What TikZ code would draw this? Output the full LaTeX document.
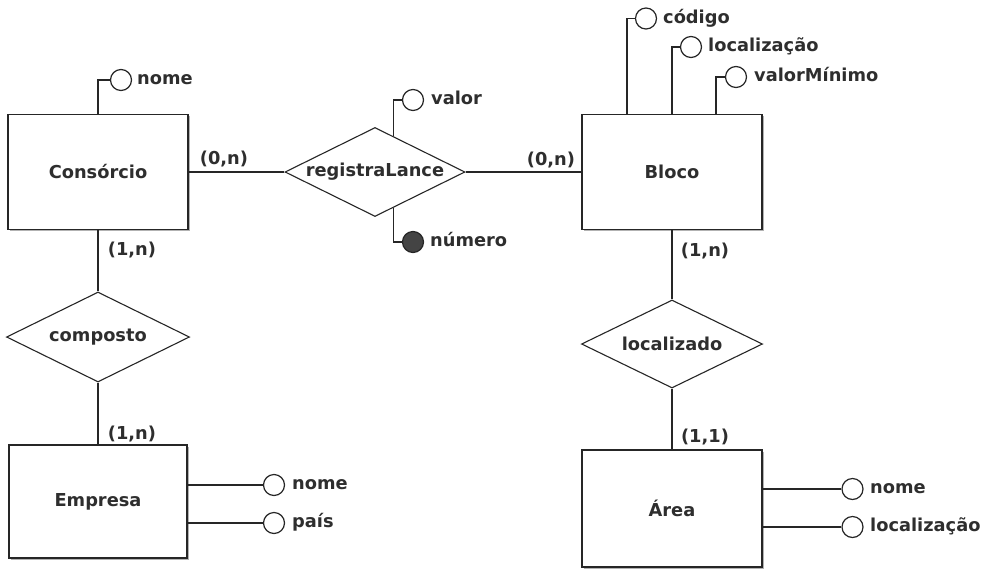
\documentclass[tikz,border=0pt]{standalone}
\usepackage{fontspec}
\setmainfont{DejaVu Sans}
\usetikzlibrary{shapes.geometric,shadows}
\definecolor{ink}{HTML}{262626}
\definecolor{txt}{HTML}{2E2E2E}
\definecolor{keyfill}{HTML}{444444}
\begin{document}
\begin{tikzpicture}[x=1pt,y=-1pt,
  every node/.style={font=\fontsize{17.8}{20}\selectfont\bfseries, text=txt},
  entity/.style={draw=ink, line width=1.6pt, fill=white, inner sep=0,
    minimum width=180pt, minimum height=115pt,
    drop shadow={shadow xshift=1.6pt, shadow yshift=-1.6pt, fill=gray!60, opacity=1}},
  relation/.style={diamond, draw=ink, line width=1.1pt, fill=white, inner sep=0,
    aspect=2, minimum width=181pt, minimum height=89pt},
  attr/.style={circle, draw=ink, line width=1.2pt, fill=white, inner sep=0, minimum size=21pt},
  keyattr/.style={attr, fill=keyfill},
  link/.style={draw=ink, line width=1.5pt},
  lbl/.style={anchor=west, inner sep=0, text height=12.5pt, text depth=3.5pt},
  card/.style={inner sep=0, text height=12.5pt, text depth=3.5pt},
]
\useasboundingbox[fill=white] (0,0) rectangle (985,571);

% entities
\node[entity] (cons) at (98,172) {Consórcio};
\node[entity] (bloco) at (672,172) {Bloco};
\node[entity, minimum width=178pt, minimum height=113pt] (emp) at (98,501.5) {Empresa};
\node[entity, minimum height=117pt] (area) at (672,508.5) {Área};

% relationships
\node[relation, minimum width=180pt] (rl) at (375,172) {registraLance};
\node[relation, minimum width=183pt, minimum height=90pt] (comp) at (98,337) {composto};
\node[relation, minimum height=88pt] (loc) at (672,344) {localizado};

% attributes
\node[attr] (cnome) at (121,80) {};
\node[lbl] at (137,80) {nome};

\node[attr] (valor) at (413,100) {};
\node[lbl] at (431,100) {valor};
\node[keyattr] (num) at (413,242) {};
\node[lbl] at (430,242) {número};

\node[attr] (bcod) at (646,18.5) {};
\node[lbl] at (663,18.5) {código};
\node[attr] (bloc) at (691,47) {};
\node[lbl] at (708,47) {localização};
\node[attr] (bval) at (736,77) {};
\node[lbl] at (754,77) {valorMínimo};

\node[attr] (enome) at (274,485) {};
\node[lbl] at (292,485) {nome};
\node[attr] (epais) at (274,523) {};
\node[lbl] at (292,523) {país};

\node[attr] (anome) at (852.5,489) {};
\node[lbl] at (870,489) {nome};
\node[attr] (aloc) at (852.5,527) {};
\node[lbl] at (870,527) {localização};

% relationship lines
\draw[link] (cons.east) -- (rl.west);
\draw[link] (rl.east) -- (bloco.west);
\draw[link] (cons.south) -- (comp.north);
\draw[link] (comp.south) -- (emp.north);
\draw[link] (bloco.south) -- (loc.north);
\draw[link] (loc.south) -- (area.north);

% attribute lines
\draw[link] (cons.north) |- (cnome.west);
\draw[link] (rl.63) |- (valor.west);
\draw[link] (rl.-63) |- (num.west);
\draw[link] ([xshift=-45pt]bloco.north) |- (bcod.west);
\draw[link] (bloco.north) |- (bloc.west);
\draw[link] ([xshift=44pt]bloco.north) |- (bval.west);
\draw[link] (emp.east |- enome.west) -- (enome.west);
\draw[link] (emp.east |- epais.west) -- (epais.west);
\draw[link] (area.east |- anome.west) -- (anome.west);
\draw[link] (area.east |- aloc.west) -- (aloc.west);

% cardinalities
\node[card] (c1) at (224,160) {(0,n)};
\node[card] (c2) at (551,161) {(0,n)};
\node[card] (c3) at (132,251) {(1,n)};
\node[card] (c4) at (132,435) {(1,n)};
\node[card] (c5) at (705,252) {(1,n)};
\node[card] (c6) at (705,438) {(1,1)};
\end{tikzpicture}
\end{document}
